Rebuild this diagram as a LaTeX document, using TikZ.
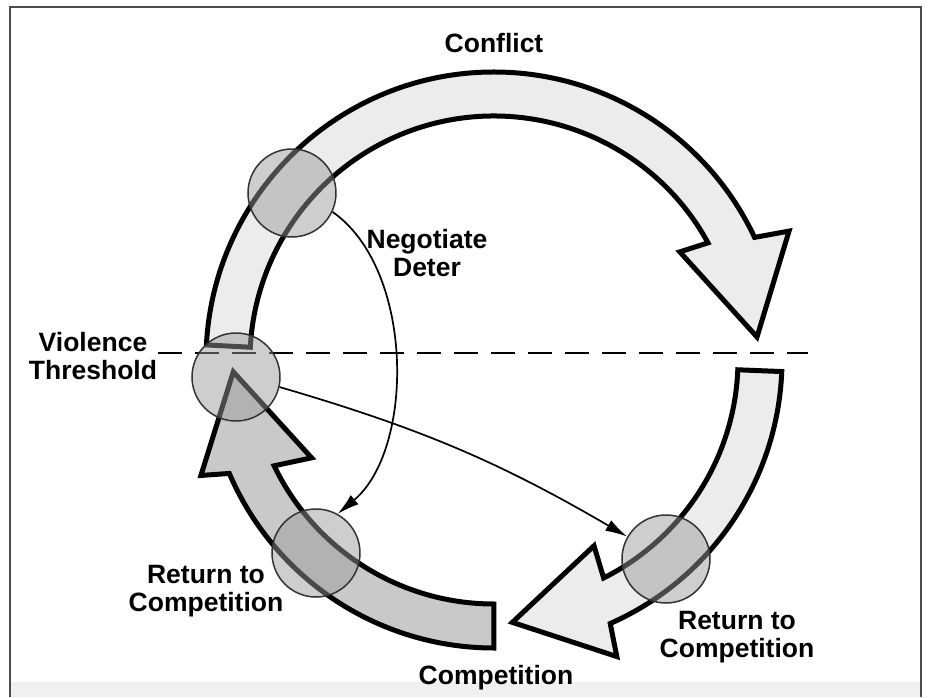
\documentclass[tikz,border=0pt]{standalone}
\usepackage{fontspec}
\setmainfont{Liberation Sans}
\usetikzlibrary{arrows.meta}
\begin{document}
\begin{tikzpicture}[x=1pt,y=1pt,line join=miter,font=\fontsize{26.5}{28}\selectfont\bfseries]
						\tikzset{band light/.style={draw,line width=5pt,fill=gray!15},
							band dark/.style={draw,line width=5pt,fill=gray!42},
							phase circle/.style={circle,minimum size=88pt,inner sep=0pt,draw=black!80,line width=1.5pt,fill=black!40,fill opacity=0.48},
							thin arrow/.style={line width=1.7pt,-{Latex[length=22pt,width=12pt]}},
							phase text/.style={align=center}}
						\useasboundingbox (-494,-337) rectangle (435,360);
						\fill[gray!12] (-484,-322) rectangle (427,-337);
						\draw[black!70,line width=2pt] (-484,-337) |- (427,353) -- (427,-337);
						\draw[band light] (177:288pt) arc[start angle=177,end angle=25.2,radius=288pt] -- (23.6:322pt) -- (5:264pt) -- (30.2:215pt) -- (28.7:244pt) arc[start angle=28.7,end angle=177,radius=244pt] -- cycle;
						\draw[band light] (-2.3:288pt) arc[start angle=-2.3,end angle=-66.2,radius=288pt] -- (-67.5:321pt) -- (-86:263pt) -- (-61.7:211pt) -- (-63.3:244pt) arc[start angle=-63.3,end angle=-2.3,radius=244pt] -- cycle;
						\draw[band dark] (270:288pt) arc[start angle=270,end angle=203.2,radius=288pt] -- (201.5:315pt) -- (182.6:261pt) -- (208.2:207pt) -- (205.7:244pt) arc[start angle=205.7,end angle=270,radius=244pt] -- cycle;
						\coordinate (thr west) at (-336,7);
						\coordinate (thr east) at (314,7);
						\draw[line width=2.5pt,dash pattern=on 24pt off 13pt] (thr west) -- (thr east);
						\node [phase circle] (tl) at (-202,167)								{};
						\node [phase circle] (vt) at (-258,-17)								{};
						\node [phase circle] (bl) at (-178,-193)							{};
						\node [phase circle] (br) at (172,-199)								{};
						\draw[thin arrow] (tl.-25) to[out=-35,in=40,looseness=0.85] (bl.61);
						\draw[thin arrow] (vt.-13) to[bend left=7] (br.150);
						\node [phase text] (conflict)		at (0,317)						{Conflict};
						\node [phase text] (negotiate)		at (-67,107)					{Negotiate\\Deter};
						\node [phase text] (threshold)		at (-401,4)						{Violence\\Threshold};
						\node [phase text] (return left)	at (-288,-231)					{Return to\\Competition};
						\node [phase text] (return right)	at (243,-277)					{Return to\\Competition};
						\node [phase text] (competition)	at (2,-318)						{Competition};
					\end{tikzpicture}
\end{document}
